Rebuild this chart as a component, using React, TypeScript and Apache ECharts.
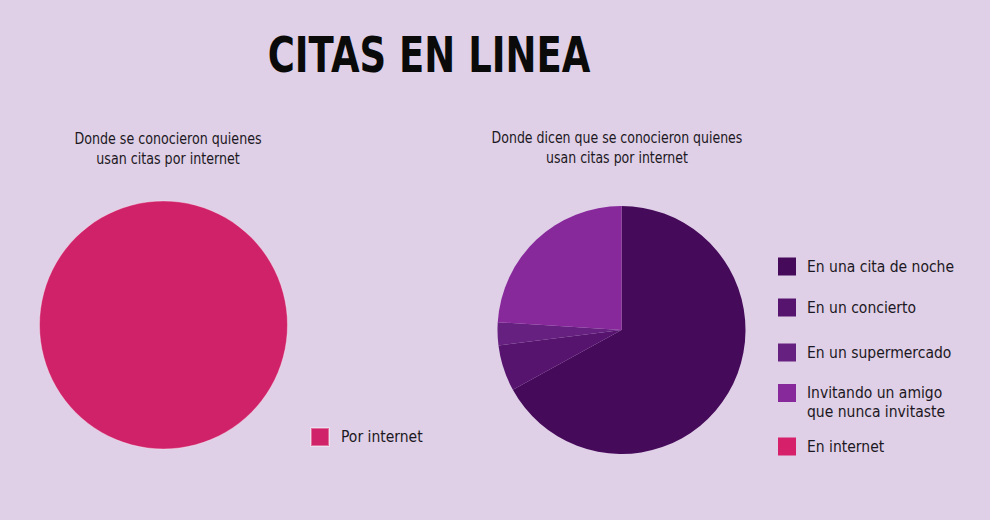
import React, { useEffect, useRef } from "react";
import * as echarts from "echarts";

const TITLE = "CITAS EN LINEA";
const LEFT_SUBTITLE = "Donde se conocieron quienes\nusan citas por internet";
const RIGHT_SUBTITLE = "Donde dicen que se conocieron quienes\nusan citas por internet";

const leftCategories = ["Por internet"];
const leftValues = [100];

const rightCategories = [
  "En una cita de noche",
  "En un concierto",
  "En un supermercado",
  "Invitando un amigo que nunca invitaste",
  "En internet",
];
const rightValues = [67, 6, 3, 24, 0];
const rightLegendLines = [
  ["En una cita de noche"],
  ["En un concierto"],
  ["En un supermercado"],
  ["Invitando un amigo", "que nunca invitaste"],
  ["En internet"],
];

const leftColors = ["#d02268"];
const rightColors = ["#460a5a", "#56146f", "#66207f", "#87289b", "#d6206a"];
// y of the centre of each legend square
const rightLegendCentres = [266, 307, 352, 393, 446];

const FONT = "'Liberation Sans Narrow', 'DejaVu Sans Condensed', 'Arial Narrow', sans-serif";
const TITLE_FONT = "'DejaVu Sans', sans-serif";
const TEXT_COLOR = "#1c1822";
const LEGEND_FONT = 15.5;
const LINE_H = 19;

export default function App() {
  const ref = useRef<HTMLDivElement>(null);
  useEffect(() => {
    if (!ref.current) return;
    const chart = echarts.init(ref.current, undefined, { renderer: "svg" });

    const legends: any[] = [
      {
        data: [leftCategories[0]],
        left: 310,
        top: 427,
        padding: 0,
        icon: "rect",
        itemWidth: 18,
        itemHeight: 18,
        selectedMode: false,
        textStyle: {
          fontFamily: FONT,
          fontSize: LEGEND_FONT,
          color: TEXT_COLOR,
          padding: [0, 0, 0, 7],
        },
      },
      ...rightCategories.map((name, i) => {
        const lines = rightLegendLines[i];
        // multi-line labels: an empty leading line keeps the first line level with the square
        const text = lines.length > 1 ? ["", ...lines].join("\n") : lines[0];
        const extra = lines.length > 1 ? LINE_H * 1.5 - 9 : 0;
        return {
          data: [name],
          left: 778,
          top: rightLegendCentres[i] - 9 - extra,
          padding: 0,
          icon: "rect",
          itemWidth: 18,
          itemHeight: 18,
          selectedMode: false,
          formatter: () => text,
          textStyle: {
            fontFamily: FONT,
            fontSize: LEGEND_FONT,
            color: TEXT_COLOR,
            lineHeight: LINE_H,
            padding: [0, 0, 0, 6],
          },
        };
      }),
    ];

    chart.setOption({
      animation: false,
      backgroundColor: "#dfcfe7",
      legend: legends,
      graphic: [
        {
          type: "text",
          x: 429,
          y: 54,
          scaleX: 0.74,
          style: {
            text: TITLE,
            fontFamily: TITLE_FONT,
            fontSize: 50,
            fontWeight: "bold",
            fill: "#0a0a0a",
            textAlign: "center",
            textVerticalAlign: "middle",
          },
        },
        {
          type: "text",
          x: 168,
          y: 148,
          scaleX: 0.94,
          style: {
            text: LEFT_SUBTITLE,
            fontFamily: FONT,
            fontSize: 15,
            lineHeight: 20,
            fill: TEXT_COLOR,
            textAlign: "center",
            textVerticalAlign: "middle",
          },
        },
        {
          type: "text",
          x: 617,
          y: 148,
          scaleX: 0.93,
          style: {
            text: RIGHT_SUBTITLE,
            fontFamily: FONT,
            fontSize: 15,
            lineHeight: 20,
            fill: TEXT_COLOR,
            textAlign: "center",
            textVerticalAlign: "middle",
          },
        },
      ],
      series: [
        {
          type: "pie",
          center: [163.5, 325],
          radius: 124,
          startAngle: 90,
          clockwise: true,
          label: { show: false },
          labelLine: { show: false },
          silent: true,
          itemStyle: { borderColor: "rgba(255,255,255,0.35)", borderWidth: 1 },
          data: leftCategories.map((name, i) => ({
            name,
            value: leftValues[i],
            itemStyle: { color: leftColors[i] },
          })),
        },
        {
          type: "pie",
          center: [621.5, 330],
          radius: 124,
          startAngle: 90,
          clockwise: true,
          minAngle: 0,
          label: { show: false },
          labelLine: { show: false },
          silent: true,
          itemStyle: { borderWidth: 0 },
          data: rightCategories.map((name, i) => ({
            name,
            value: rightValues[i],
            itemStyle: { color: rightColors[i] },
          })),
        },
      ],
    });
    return () => chart.dispose();
  }, []);
  return (
    <div
      ref={ref}
      style={{ position: "fixed", left: 0, top: 0, width: 990, height: 520 }}
    />
  );
}
